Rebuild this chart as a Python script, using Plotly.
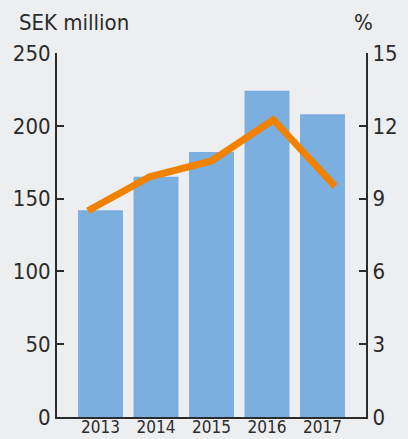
import plotly.graph_objects as go

years = ["2013", "2014", "2015", "2016", "2017"]
sek_million = [142, 165, 182, 224, 208]
margin_pct = [8.5, 9.9, 10.55, 12.25, 9.5]

left_ticks = [0, 50, 100, 150, 200, 250]
right_ticks = [0, 3, 6, 9, 12, 15]

FONT = "Liberation Sans Narrow, DejaVu Sans Condensed, Roboto, sans-serif"
BG = "#EDEEF0"
INK = "#2b2b2b"


def make_figure():
    fig = go.Figure()

    fig.add_trace(go.Bar(
        x=years, y=sek_million,
        marker=dict(color="#7BAFDF", line=dict(width=0)),
        xaxis="x", yaxis="y",
        showlegend=False,
    ))

    fig.add_trace(go.Scatter(
        x=years, y=margin_pct,
        mode="lines",
        line=dict(color="#F08200", width=7),
        xaxis="x2", yaxis="y2",
        showlegend=False,
    ))

    axis_common = dict(
        showgrid=False, zeroline=False, automargin=False,
        showline=True, linecolor=INK, linewidth=2,
        ticks="inside", ticklen=7, tickwidth=2, tickcolor=INK,
        tickfont=dict(family=FONT, size=22, color=INK),
    )

    fig.update_layout(
        width=408, height=439,
        margin=dict(l=57, r=42, t=53, b=22),
        paper_bgcolor=BG, plot_bgcolor=BG,
        bargap=0.19,
        xaxis=dict(
            type="category", range=[-0.784, 4.784], automargin=False,
            showgrid=False, zeroline=False,
            showline=True, linecolor=INK, linewidth=2,
            ticks="", ticklabelstandoff=-6,
            tickfont=dict(family=FONT, size=17, color=INK),
        ),
        xaxis2=dict(
            type="category", range=[-0.5, 4.5], overlaying="x",
            visible=False, automargin=False,
        ),
        yaxis=dict(
            range=[0, 250], tickvals=left_ticks, side="left",
            **axis_common,
        ),
        yaxis2=dict(
            range=[0, 15], tickvals=right_ticks, side="right",
            overlaying="y",
            **axis_common,
        ),
        annotations=[
            dict(text="SEK million", xref="paper", yref="paper",
                 x=-0.13, y=1.085, xanchor="left", yanchor="middle",
                 showarrow=False, font=dict(family=FONT, size=22, color=INK)),
            dict(text="%", xref="paper", yref="paper",
                 x=0.993, y=1.085, xanchor="center", yanchor="middle",
                 showarrow=False, font=dict(family=FONT, size=22, color=INK)),
        ],
    )
    return fig


if __name__ == "__main__":
    fig = make_figure()
    # the page's default body margin shifts the plot by 8px, drop it
    fig.write_html("out.html",
                   config={"displayModeBar": False},
                   post_script="document.body.style.margin='0';"
                               "document.body.style.background='#EDEEF0';")
